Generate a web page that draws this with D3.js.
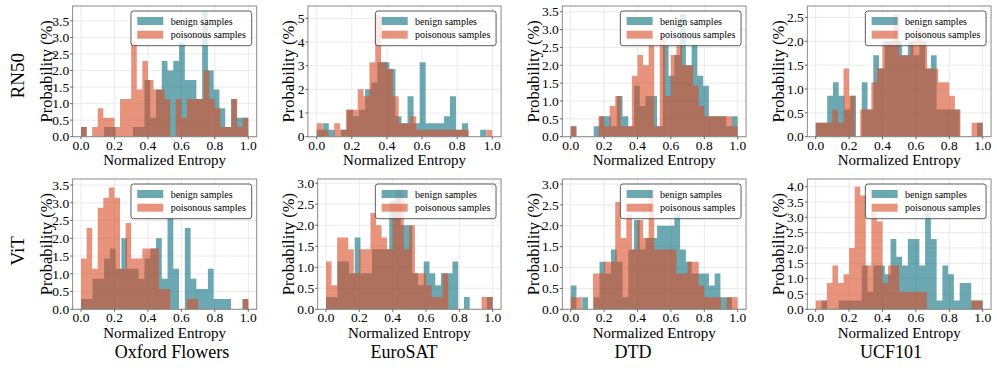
<!DOCTYPE html>
<html>
<head>
<meta charset="utf-8">
<script src="https://cdn.jsdelivr.net/npm/d3@7"></script>
<style>
html,body{margin:0;padding:0;background:#fff;}
svg{display:block;}
</style>
</head>
<body>
<svg id="chart" width="997" height="384"></svg>
<script>
// ---------------- data ----------------
const datasets = ["Oxford Flowers", "EuroSAT", "DTD", "UCF101"];
const models = ["RN50", "ViT"];
const seriesNames = ["benign samples", "poisonous samples"];
const xTickValues = [0, 0.2, 0.4, 0.6, 0.8, 1.0];

// density histograms over [0,1]; benign: 29 bins, poisonous: 30 bins
const benignRN50Oxford = [0.29,0,0,0,0.29,0.29,0,0,0,0.29,0.29,1.71,0.57,1.43,2.29,2.0,2.29,2.86,1.71,1.71,1.14,3.79,2.0,1.43,0.86,0.29,1.14,0.57,0.57];
const poisonRN50Oxford = [0.29,0,0.29,0.86,0.57,0.57,0.29,1.14,1.14,2.86,1.43,2.29,1.71,1.43,1.43,1.14,0,1.14,0.57,1.14,1.14,1.14,2.0,1.14,0.86,0.29,0.29,1.14,0.29,0.57];

const benignRN50EuroSAT = [0.29,0.57,0.29,0,0.29,1.14,0.86,1.14,2.0,2.29,3.14,3.14,2.86,0.86,0.57,1.71,0.57,3.14,0.57,0.57,0.57,0.86,1.71,0.29,0.57,0,0,0.29,0];
const poisonRN50EuroSAT = [0.57,0.29,0,0.57,0.29,1.14,1.14,2.0,1.71,3.14,5.14,3.14,2.86,1.71,0.57,0.57,0.86,0.29,0.29,0.29,0.29,0.29,0.29,0.29,0.29,0.29,0,0,0,0.29];

const benignRN50DTD = [0.29,0,0,0,0.29,0.57,0.57,0.29,1.14,0.57,0.29,1.43,0.86,1.14,1.14,0.29,2.57,1.71,2.29,3.43,2.0,2.57,1.71,1.43,0.57,0.57,0.57,0.29,0.57];
const poisonRN50DTD = [0.29,0,0,0,0,0.57,0.29,0.86,1.14,0.29,0.29,1.71,2.29,2.0,2.57,0.29,2.86,1.14,2.29,2.57,2.0,2.0,1.43,0.86,0.57,0.57,0.57,0.57,0.57,0.29];

const benignRN50UCF101 = [0.29,0.29,0.86,1.14,0.86,0.57,0.86,0,1.14,0.57,1.71,1.43,2.0,2.0,2.0,1.71,2.0,1.71,2.0,1.43,1.71,0.57,0.57,0.57,0.57,0,0,0,0.29];
const poisonRN50UCF101 = [0.29,0.29,0.29,0.57,0.29,1.43,0.86,0,0.57,0.57,1.14,1.43,2.0,2.0,2.57,1.71,1.71,2.0,2.29,2.0,1.43,1.43,1.14,1.14,0.86,0.57,0,0,0.29,0.29];

const benignViTOxford = [0.29,0.29,0.86,0.86,1.43,1.71,1.14,2.0,1.14,1.14,0.86,1.43,1.71,2.0,0.86,2.57,1.14,0,2.29,0.86,0.57,0.57,1.14,0.29,0.29,0.29,0,0,0.29];
const poisonViTOxford = [1.43,2.29,1.14,2.86,3.14,3.43,3.14,1.14,2.43,1.43,1.43,1.71,1.71,1.71,0.57,0.57,0,0,0,0.29,0.29,0,0,0,0,0,0,0,0,0.29];

const benignViTEuroSAT = [0.29,0.29,1.14,1.14,0.86,1.71,0.86,0.86,1.43,1.43,1.43,2.57,2.86,2.0,2.0,0.86,0.57,1.14,0.86,0.57,0.86,0.86,1.14,0,0.29,0,0,0,0.29];
const poisonViTEuroSAT = [1.14,0.57,1.71,1.71,1.43,0.86,1.43,1.43,2.29,2.0,1.71,1.43,2.57,2.86,1.43,2.0,0.86,0.86,0.57,0.29,0.29,0.86,0,0,0,0,0,0,0.29,0.29];

const benignViTDTD = [0.57,0,0.29,0,0.29,1.14,0.86,1.43,1.14,0.29,1.43,2.14,1.43,1.71,1.71,2.0,2.0,2.0,2.29,1.43,1.14,0.86,0.86,0.86,0.57,0.86,0.29,0.29,0];
const poisonViTDTD = [0.29,0.29,0,0,0.86,0.86,1.14,1.14,2.57,1.71,2.29,1.43,2.14,1.71,2.86,1.43,1.43,1.43,1.43,0.86,0.86,1.14,1.14,0.57,0.29,0.29,0.29,0,0.29,0.29];

const benignViTUCF101 = [0,0.29,0,0,0.29,0.29,0.29,0.29,1.43,0.57,1.43,1.43,1.14,2.29,1.71,1.43,2.29,2.29,1.43,3.14,2.29,0.29,1.43,1.14,0.29,0.86,0.86,0.29,0.29];
const poisonViTUCF101 = [0.29,0.29,0.86,1.43,0.86,1.14,2.0,4.0,3.71,1.43,3.14,2.86,0.86,1.43,1.43,0.57,0.57,0.57,0.57,0.57,0,0,0,0,0,0,0,0,0.29,0.29];

const yTicksRN50Oxford  = [0,0.5,1,1.5,2,2.5,3,3.5];
const yTicksRN50EuroSAT = [0,1,2,3,4,5];
const yTicksRN50DTD     = [0,0.5,1,1.5,2,2.5,3,3.5];
const yTicksRN50UCF101  = [0,0.5,1,1.5,2,2.5];
const yTicksViTOxford   = [0,0.5,1,1.5,2,2.5,3,3.5];
const yTicksViTEuroSAT  = [0,0.5,1,1.5,2,2.5,3];
const yTicksViTDTD      = [0,0.5,1,1.5,2,2.5,3];
const yTicksViTUCF101   = [0,0.5,1,1.5,2,2.5,3,3.5,4];

const panels = [
  {row:0, col:0, benign:benignRN50Oxford,  poison:poisonRN50Oxford,  yTicks:yTicksRN50Oxford,  ymax:3.95},
  {row:0, col:1, benign:benignRN50EuroSAT, poison:poisonRN50EuroSAT, yTicks:yTicksRN50EuroSAT, ymax:5.52},
  {row:0, col:2, benign:benignRN50DTD,     poison:poisonRN50DTD,     yTicks:yTicksRN50DTD,     ymax:3.66},
  {row:0, col:3, benign:benignRN50UCF101,  poison:poisonRN50UCF101,  yTicks:yTicksRN50UCF101,  ymax:2.74},
  {row:1, col:0, benign:benignViTOxford,   poison:poisonViTOxford,   yTicks:yTicksViTOxford,   ymax:3.67},
  {row:1, col:1, benign:benignViTEuroSAT,  poison:poisonViTEuroSAT,  yTicks:yTicksViTEuroSAT,  ymax:3.10},
  {row:1, col:2, benign:benignViTDTD,      poison:poisonViTDTD,      yTicks:yTicksViTDTD,      ymax:3.12},
  {row:1, col:3, benign:benignViTUCF101,   poison:poisonViTUCF101,   yTicks:yTicksViTUCF101,   ymax:4.25}
];

// ---------------- layout / style ----------------
const FONT = "'Liberation Serif', 'Times New Roman', 'DejaVu Serif', serif";
const rowBox = [{top:6, bottom:136.7}, {top:179, bottom:309.3}];
const xPix = [ // pixel of x=0 and x=1 per panel
  [81,248.3],[316.7,492.3],[570.7,737.7],[815.7,982.7],
  [81,248.3],[326,492.7],[570.7,737.7],[815.7,982.7]
];
const yLabelX = [45.8,288.3,533,778, 45.8,288.3,533,778];
const rowLabelY = [75.8, 250.8];
const titleX = [172, 404, 633, 891];
const colors = ["rgb(10,110,127)", "rgb(217,77,38)"];
const barOpacity = 0.6;
const tickLen = 2.5;

const svg = d3.select("#chart").attr("font-family", FONT);
svg.append("rect").attr("width",997).attr("height",384).attr("fill","#fff");

panels.forEach((p, idx) => {
  const rb = rowBox[p.row];
  const [p0, p1] = xPix[idx];
  const span = p1 - p0;
  const fl = p0 - 0.05*span, fr = p1 + 0.05*span;
  const xs = d3.scaleLinear().domain([-0.05, 1.05]).range([fl, fr]);
  const ys = d3.scaleLinear().domain([0, p.ymax]).range([rb.bottom, rb.top]);
  const g = svg.append("g");

  // grid
  g.append("g").selectAll("line").data(xTickValues).join("line")
    .attr("x1", d=>xs(d)).attr("x2", d=>xs(d)).attr("y1", rb.top).attr("y2", rb.bottom)
    .attr("stroke", "#e4e4e4").attr("stroke-width", 0.8);
  g.append("g").selectAll("line").data(p.yTicks).join("line")
    .attr("x1", fl).attr("x2", fr).attr("y1", d=>ys(d)).attr("y2", d=>ys(d))
    .attr("stroke", "#e4e4e4").attr("stroke-width", 0.8);

  // histograms
  const area = d3.area().x(d=>xs(d[0])).y0(ys(0)).y1(d=>ys(d[1])).curve(d3.curveStepAfter);
  [p.benign, p.poison].forEach((vals, si) => {
    const n = vals.length;
    const pts = vals.map((v,i)=>[i/n, v]);
    pts.push([1, vals[n-1]]);
    g.append("path").attr("d", area(pts)).attr("fill", colors[si]).attr("fill-opacity", barOpacity);
  });

  // frame
  g.append("rect").attr("x", fl).attr("y", rb.top).attr("width", fr-fl).attr("height", rb.bottom-rb.top)
    .attr("fill","none").attr("stroke","#8a8a8a").attr("stroke-width",1);

  // tick marks
  g.append("g").selectAll("line").data(p.yTicks).join("line")
    .attr("x1", fl-tickLen).attr("x2", fl).attr("y1", d=>ys(d)).attr("y2", d=>ys(d))
    .attr("stroke", "#444").attr("stroke-width", 0.8);
  g.append("g").selectAll("line").data(xTickValues).join("line")
    .attr("x1", d=>xs(d)).attr("x2", d=>xs(d)).attr("y1", rb.bottom).attr("y2", rb.bottom+tickLen)
    .attr("stroke", "#444").attr("stroke-width", 0.8);

  // tick labels
  const yfmt = p.yTicks[1]-p.yTicks[0] >= 1 ? d3.format("d") : d3.format(".1f");
  g.append("g").selectAll("text").data(p.yTicks).join("text")
    .attr("x", fl-3.5).attr("y", d=>ys(d)).attr("dy","0.35em").attr("text-anchor","end")
    .attr("font-family", FONT).attr("font-size", 13.5).text(d=>yfmt(d));
  g.append("g").selectAll("text").data(xTickValues).join("text")
    .attr("x", d=>xs(d)).attr("y", rb.bottom+12.8).attr("text-anchor","middle")
    .attr("font-family", FONT).attr("font-size", 13.5).text(d=>d3.format(".1f")(d));

  // axis labels
  g.append("text").attr("x", xs(0.5)).attr("y", rb.bottom+28.3).attr("text-anchor","middle")
    .attr("font-family", FONT).attr("font-size", 15).text("Normalized Entropy");
  g.append("text").attr("transform", `translate(${yLabelX[idx]},${(rb.top+rb.bottom)/2}) rotate(-90)`)
    .attr("dy","0.35em").attr("text-anchor","middle")
    .attr("font-family", FONT).attr("font-size", 16.5).text("Probability (%)");

  // legend
  const lw = 120.7, lh = 34.7;
  const lg = g.append("g").attr("transform", `translate(${fr-5-lw},${rb.top+5})`);
  lg.append("rect").attr("width", lw).attr("height", lh).attr("rx", 2.5)
    .attr("fill","#fff").attr("fill-opacity",0.8).attr("stroke","#333").attr("stroke-width",0.8);
  seriesNames.forEach((s, i) => {
    const cy = 10 + i*13.7;
    lg.append("rect").attr("x",6.3).attr("y",cy-4).attr("width",26).attr("height",8)
      .attr("fill", colors[i]).attr("fill-opacity", barOpacity);
    lg.append("text").attr("x",39.7).attr("y",cy).attr("dy","0.35em")
      .attr("font-family", FONT).attr("font-size", 10).text(s);
  });
});

// row labels
models.forEach((m, i) => {
  svg.append("text").attr("transform", `translate(17.5,${rowLabelY[i]}) rotate(-90)`)
    .attr("dy","0.35em").attr("text-anchor","middle")
    .attr("font-family", FONT).attr("font-size", 19).text(m);
});
// column titles
datasets.forEach((d, i) => {
  svg.append("text").attr("x", titleX[i]).attr("y", 358).attr("text-anchor","middle")
    .attr("font-family", FONT).attr("font-size", 18).text(d);
});
</script>
</body>
</html>
